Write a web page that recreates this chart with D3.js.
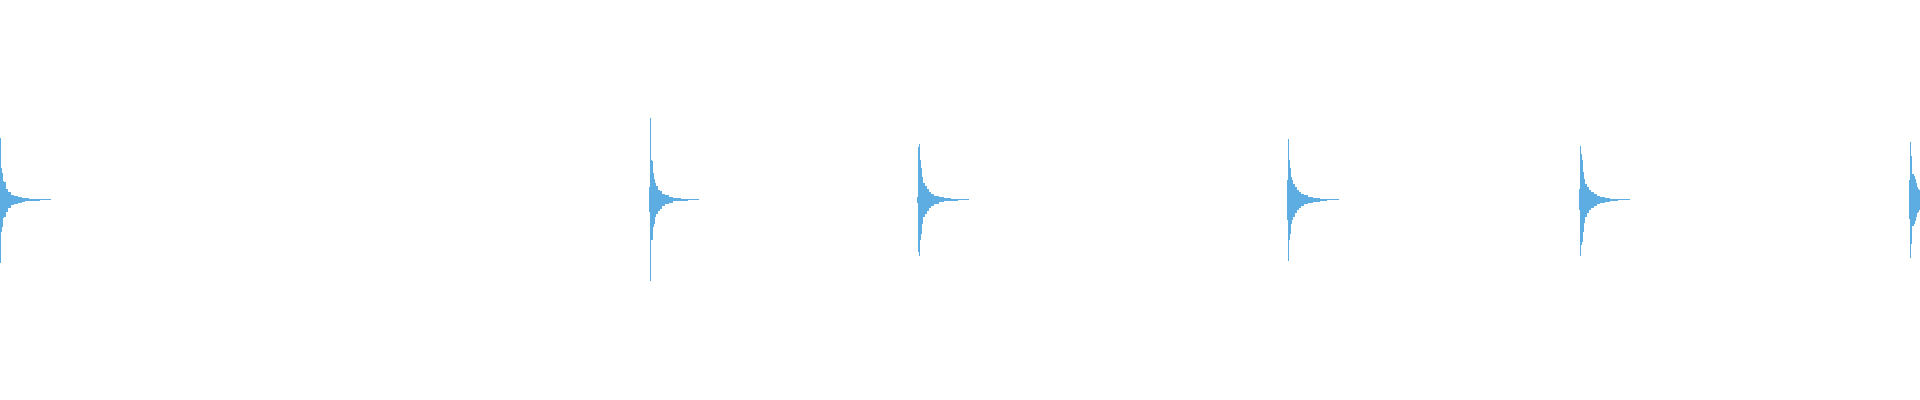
<!DOCTYPE html>
<html>
<head>
<meta charset="utf-8">
<script src="https://cdn.jsdelivr.net/npm/d3@7"></script>
<style>
  html, body { margin: 0; padding: 0; background: #ffffff; }
  svg { display: block; }
</style>
</head>
<body>
<svg id="chart" width="1920" height="400"></svg>
<script>
// Waveform peaks: each burst is a list of runs [columns, max, min] starting at its onset (sample index)
const burstOnsets = [0, 649, 917, 1287, 1579, 1909];

const burst1 = [
  [1, 0.31, -0.315], [1, 0.16, -0.16], [1, 0.135, -0.135], [1, 0.0925, -0.09],
  [2, 0.09, -0.089], [2, 0.055, -0.06], [3, 0.04, -0.04], [3, 0.025, -0.027],
  [4, 0.0175, -0.022], [4, 0.0135, -0.015], [3, 0.0085, -0.01], [4, 0.0065, -0.0075],
  [11, 0.0035, -0.005], [11, 0.0025, -0.0025]
];
const burst2 = [
  [1, 0.065, -0.06], [1, 0.41, -0.405], [1, 0.1975, -0.2], [1, 0.195, -0.2],
  [1, 0.135, -0.135], [1, 0.105, -0.12], [1, 0.085, -0.085], [2, 0.0675, -0.07],
  [2, 0.05, -0.055], [2, 0.042, -0.045], [3, 0.03, -0.032], [4, 0.0215, -0.024],
  [4, 0.0135, -0.015], [8, 0.0065, -0.008], [7, 0.0035, -0.005], [11, 0.0025, -0.0025]
];
const burst3 = [
  [1, 0.015, -0.015], [1, 0.265, -0.26], [1, 0.2775, -0.2825], [1, 0.2, -0.2],
  [1, 0.16, -0.17], [1, 0.115, -0.12], [2, 0.083, -0.085], [2, 0.067, -0.07],
  [2, 0.052, -0.055], [2, 0.037, -0.04], [3, 0.027, -0.03], [5, 0.017, -0.02],
  [5, 0.012, -0.014], [7, 0.0065, -0.008], [7, 0.0035, -0.005], [11, 0.0025, -0.0025]
];
const burst4 = [
  [1, 0.1, -0.103], [1, 0.3025, -0.305], [1, 0.2, -0.2], [1, 0.16, -0.17],
  [1, 0.113, -0.12], [1, 0.1, -0.1], [2, 0.08, -0.085], [2, 0.063, -0.067],
  [2, 0.05, -0.053], [2, 0.038, -0.04], [3, 0.03, -0.032], [4, 0.0215, -0.024],
  [5, 0.0135, -0.015], [7, 0.0085, -0.01], [7, 0.0035, -0.005], [12, 0.0025, -0.0025]
];
const burst5 = [
  [1, 0.055, -0.053], [1, 0.27, -0.28], [1, 0.227, -0.228], [1, 0.197, -0.21],
  [1, 0.138, -0.16], [1, 0.105, -0.115], [2, 0.08, -0.085], [2, 0.063, -0.067],
  [2, 0.05, -0.053], [3, 0.04, -0.042], [3, 0.03, -0.032], [3, 0.02, -0.022],
  [5, 0.0135, -0.015], [5, 0.0085, -0.01], [8, 0.0035, -0.005], [12, 0.0025, -0.0025]
];
const burst6 = [
  [1, 0.098, -0.095], [1, 0.287, -0.292], [1, 0.217, -0.223], [2, 0.127, -0.13],
  [1, 0.117, -0.12], [1, 0.103, -0.108], [1, 0.083, -0.087], [1, 0.063, -0.069],
  [1, 0.055, -0.06], [1, 0.0475, -0.0525]
];

const bursts = [burst1, burst2, burst3, burst4, burst5, burst6];
const totalSamples = 1920;
const waveColor = "#5dade2";

const width = 1920, height = 400;
const svg = d3.select("#chart");

const x = d3.scaleLinear().domain([0, totalSamples]).range([0, width]);
const y = d3.scaleLinear().domain([-1, 1]).range([399.5, -0.5]);

// Expand runs into per-column peaks
const columns = [];
bursts.forEach((runs, i) => {
  let s = burstOnsets[i];
  runs.forEach(([len, mx, mn]) => {
    for (let k = 0; k < len; k++) {
      columns.push({ s: s, max: mx, min: mn });
      s++;
    }
  });
});

svg.append("g")
  .attr("shape-rendering", "crispEdges")
  .selectAll("rect")
  .data(columns)
  .join("rect")
  .attr("x", d => x(d.s))
  .attr("width", d => Math.max(1, x(d.s + 1) - x(d.s)))
  .attr("y", d => y(d.max))
  .attr("height", d => Math.max(1, y(d.min) - y(d.max)))
  .attr("fill", waveColor);
</script>
</body>
</html>
